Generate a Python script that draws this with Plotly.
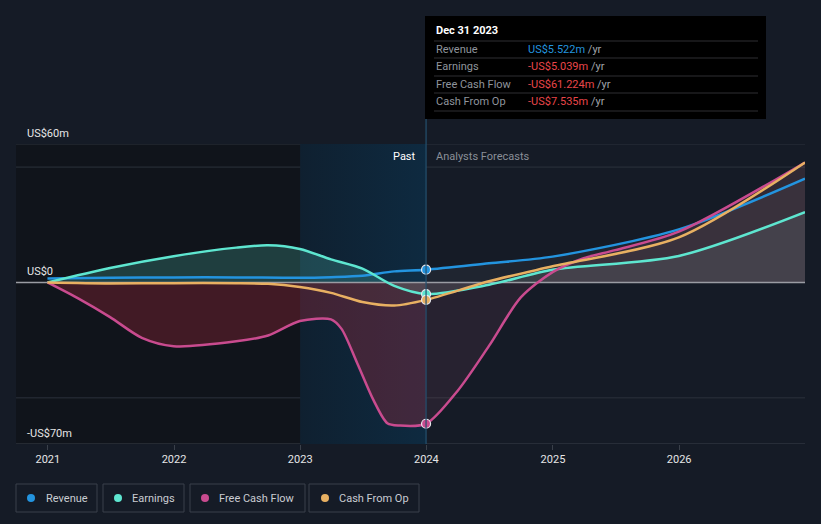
import plotly.graph_objects as go

# ---------------- data ----------------
rev_dates = ["2020-12-31", "2021-06-30", "2021-12-31", "2022-06-30", "2022-12-31",
             "2023-03-31", "2023-06-30", "2023-09-30", "2023-12-31",
             "2024-06-30", "2024-12-31", "2025-12-31", "2026-12-31"]
rev_vals = [1.7, 2.0, 2.2, 2.2, 2.0, 2.3, 2.9, 4.8, 5.522, 8.3, 11.2, 23.0, 45.0]

earn_dates = ["2020-12-31", "2021-06-30", "2021-12-31", "2022-06-30", "2022-09-30",
              "2022-12-31", "2023-03-31", "2023-06-30", "2023-09-30", "2023-12-31",
              "2024-06-30", "2024-12-31", "2025-12-31", "2026-12-31"]
earn_vals = [0.0, 6.3, 11.4, 15.1, 16.1, 14.5, 10.0, 6.0, -1.5, -5.039,
             -1.0, 5.5, 11.5, 30.5]

fcf_dates = ["2020-12-31", "2021-03-31", "2021-06-30", "2021-09-30", "2021-12-31",
             "2022-06-30", "2022-09-30", "2022-12-31", "2023-03-31", "2023-04-30",
             "2023-06-15", "2023-08-01", "2023-09-10", "2023-10-15", "2023-12-31",
             "2024-03-31", "2024-06-30", "2024-09-30", "2024-12-31", "2025-03-31",
             "2025-06-30", "2025-12-31", "2026-12-31"]
fcf_vals = [0.0, -7.0, -15.0, -24.0, -27.6, -25.5, -23.0, -16.7, -16.0, -20.0,
            -35.0, -51.0, -61.0, -62.0, -61.224, -47.0, -27.5, -6.5, 4.5, 10.5,
            14.0, 22.0, 52.0]

cfo_dates = ["2020-12-31", "2021-06-30", "2021-12-31", "2022-06-30", "2022-09-30",
             "2022-12-31", "2023-03-31", "2023-06-30", "2023-09-30", "2023-12-31",
             "2024-06-30", "2024-12-31", "2025-12-31", "2026-12-31"]
cfo_vals = [0.0, -0.4, -0.3, -0.3, -0.6, -2.0, -4.5, -8.5, -10.0, -7.535,
            0.5, 7.0, 19.5, 52.0]

year_ticks = ["2021-01-01", "2022-01-01", "2023-01-01", "2024-01-01", "2025-01-01", "2026-01-01"]
year_labels = ["2021", "2022", "2023", "2024", "2025", "2026"]
y_labels = {60: "US$60m", 0: "US$0", -70: "-US$70m"}
split_date = "2023-12-31"

series = [
    ("Revenue", rev_dates, rev_vals, "#2394df", "rgba(35,148,223,0.05)", "rgba(200,200,220,0.06)"),
    ("Earnings", earn_dates, earn_vals, "#5ee6d0", "rgba(94,230,208,0.20)", "rgba(150,200,200,0.12)"),
    ("Free Cash Flow", fcf_dates, fcf_vals, "#c94b8f", "rgba(170,40,60,0.32)", "rgba(170,90,120,0.12)"),
    ("Cash From Op", cfo_dates, cfo_vals, "#e8b062", "rgba(232,176,98,0.04)", "rgba(200,150,120,0.06)"),
]

# ---------------- layout geometry ----------------
W, H = 821, 524
L, R, T, B = 16, 805, 144, 444
XMIN, XMAX = "2020-10-01", "2026-12-31"
YMIN, YMAX = -70, 60
BG = "#151b26"


def px(x):
    return (x - L) / (R - L)


def py(y):
    return (B - y) / (B - T)


fig = go.Figure()

# highlight band (past year) with gradient
fig.add_trace(go.Scatter(
    x=["2023-01-01", "2023-12-31", "2023-12-31", "2023-01-01", "2023-01-01"],
    y=[YMIN, YMIN, YMAX, YMAX, YMIN], mode="lines", line=dict(width=0),
    fill="toself",
    fillgradient=dict(type="horizontal",
                      colorscale=[[0, "rgb(15,32,48)"], [1, "rgb(14,42,64)"]]),
    hoverinfo="skip", showlegend=False))

# fills
for name, d, v, col, fpast, ffut in series:
    i = d.index(split_date)
    fig.add_trace(go.Scatter(x=d[:i + 1], y=v[:i + 1], mode="lines",
                             line=dict(width=0, shape="spline", smoothing=0.8),
                             fill="tozeroy", fillcolor=fpast,
                             hoverinfo="skip", showlegend=False))
    fig.add_trace(go.Scatter(x=d[i:], y=v[i:], mode="lines",
                             line=dict(width=0, shape="spline", smoothing=0.8),
                             fill="tozeroy", fillcolor=ffut,
                             hoverinfo="skip", showlegend=False))

# zero line
fig.add_trace(go.Scatter(x=[XMIN, XMAX], y=[0, 0], mode="lines",
                         line=dict(color="#9a9ca3", width=1.5),
                         hoverinfo="skip", showlegend=False))

# lines
for name, d, v, col, fpast, ffut in series:
    fig.add_trace(go.Scatter(x=d, y=v, mode="lines", name=name,
                             line=dict(color=col, width=2.5, shape="spline", smoothing=0.8),
                             showlegend=False))

# markers at split
for name, d, v, col, fpast, ffut in series:
    i = d.index(split_date)
    fig.add_trace(go.Scatter(x=[d[i]], y=[v[i]], mode="markers",
                             marker=dict(color=col, size=9, line=dict(color="#e8e8ee", width=1.2)),
                             hoverinfo="skip", showlegend=False))

shapes = []
# darker past region
shapes.append(dict(type="rect", xref="x", yref="paper", x0=XMIN, x1="2023-01-01",
                   y0=0, y1=1, fillcolor="#10141b", line=dict(width=0), layer="below"))
# gridlines
for gv, gc in [(60, "#2c323c"), (50, "#2c323c"), (-50, "#2c323c"), (-70, "#3a404a")]:
    shapes.append(dict(type="line", xref="paper", yref="y", x0=0, x1=1, y0=gv, y1=gv,
                       line=dict(color=gc, width=1), layer="below"))
# vertical marker line
shapes.append(dict(type="line", xref="x", yref="paper", x0=split_date, x1=split_date,
                   y0=0, y1=py(119), line=dict(color="#24506e", width=1.2)))
# tooltip box
shapes.append(dict(type="rect", xref="paper", yref="paper", x0=px(425), x1=px(766),
                   y0=py(119), y1=py(16), fillcolor="#000000", line=dict(width=0)))
for ly in [41, 58, 76, 93, 111]:
    shapes.append(dict(type="line", xref="paper", yref="paper", x0=px(434), x1=px(758),
                       y0=py(ly), y1=py(ly), line=dict(color="#2e2e33", width=1)))

annotations = []
FONT = "Roboto, Arial, sans-serif"
annotations.append(dict(xref="paper", yref="paper", x=px(434), y=py(31), text="<b>Dec 31 2023</b>",
                        showarrow=False, xanchor="left", yanchor="middle",
                        font=dict(color="#ffffff", size=11, family=FONT)))
rows = [("Revenue", "US$5.522m", "#2394df"),
        ("Earnings", "-US$5.039m", "#e8464a"),
        ("Free Cash Flow", "-US$61.224m", "#e8464a"),
        ("Cash From Op", "-US$7.535m", "#e8464a")]
for k, (lab, val, vc) in enumerate(rows):
    yy = 49 + k * 17.5
    annotations.append(dict(xref="paper", yref="paper", x=px(434), y=py(yy), text=lab,
                            showarrow=False, xanchor="left", yanchor="middle",
                            font=dict(color="#8f949c", size=11, family=FONT)))
    annotations.append(dict(xref="paper", yref="paper", x=px(526), y=py(yy),
                            text=f"<span style='color:{vc}'>{val}</span> /yr",
                            showarrow=False, xanchor="left", yanchor="middle",
                            font=dict(color="#a0a4ab", size=11, family=FONT)))

# y labels
for val, txt in y_labels.items():
    annotations.append(dict(xref="paper", yref="y", x=px(25), y=val, text=txt,
                            showarrow=False, xanchor="left", yanchor="bottom", yshift=2,
                            font=dict(color="#e6e6e6", size=11, family=FONT)))

# Past / forecast labels
annotations.append(dict(xref="paper", yref="paper", x=px(418), y=py(156), text="Past",
                        showarrow=False, xanchor="right", yanchor="middle",
                        font=dict(color="#ffffff", size=11, family=FONT)))
annotations.append(dict(xref="paper", yref="paper", x=px(434), y=py(156), text="Analysts Forecasts",
                        showarrow=False, xanchor="left", yanchor="middle",
                        font=dict(color="#8a8f98", size=11, family=FONT)))

# legend buttons
legend_boxes = [(16, 97, 31, 44), (103, 184, 118, 130), (190, 305, 205, 217), (309, 419, 325, 337)]
for (x0, x1, dx, tx), (name, d, v, col, fpast, ffut) in zip(legend_boxes, series):
    shapes.append(dict(type="rect", xref="paper", yref="paper", x0=px(x0), x1=px(x1),
                       y0=py(512), y1=py(484), line=dict(color="#3a404a", width=1),
                       fillcolor="rgba(0,0,0,0)"))
    shapes.append(dict(type="circle", xref="paper", yref="paper", x0=px(dx - 4), x1=px(dx + 4),
                       y0=py(498 + 4), y1=py(498 - 4), fillcolor=col, line=dict(width=0)))
    annotations.append(dict(xref="paper", yref="paper", x=px(tx), y=py(498), text=name,
                            showarrow=False, xanchor="left", yanchor="middle",
                            font=dict(color="#c9ccd2", size=11, family=FONT)))

fig.update_layout(
    width=W, height=H,
    margin=dict(l=L, r=W - R, t=T, b=H - B),
    paper_bgcolor=BG, plot_bgcolor=BG,
    showlegend=False,
    shapes=shapes, annotations=annotations,
    xaxis=dict(type="date", range=[XMIN, XMAX], tickvals=year_ticks, ticktext=year_labels,
               showgrid=False, zeroline=False, showline=False,
               ticks="outside", ticklen=5, tickcolor="#3a404a",
               tickfont=dict(color="#e6e6e6", size=11, family=FONT), fixedrange=True),
    yaxis=dict(range=[YMIN, YMAX], showgrid=False, zeroline=False, showticklabels=False,
               showline=False, fixedrange=True),
    hovermode=False,
)

fig.write_html("out.html")
